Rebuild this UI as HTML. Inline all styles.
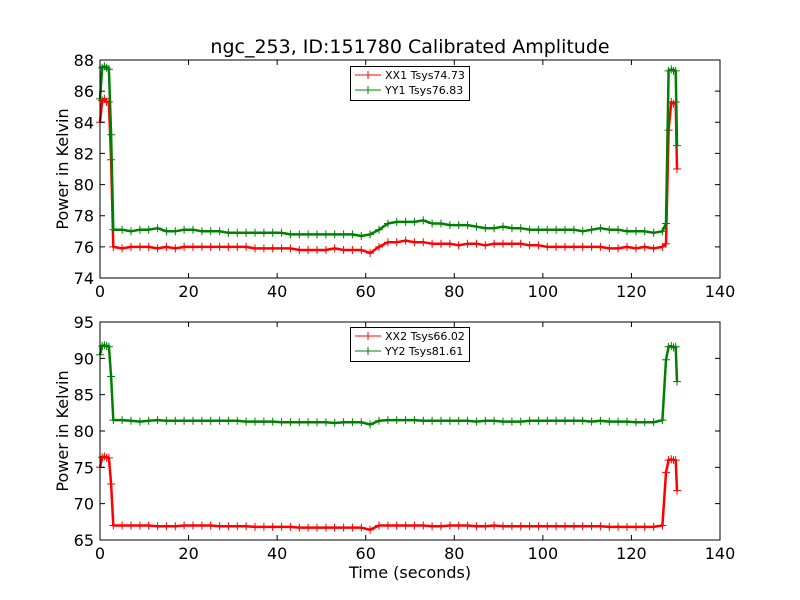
<!DOCTYPE html>
<html><head><meta charset="utf-8"><style>
body{margin:0;background:#fff}
svg{display:block;font-family:"DejaVu Sans","Liberation Sans",sans-serif}
</style></head><body>
<svg id="fig" width="800" height="600" viewBox="0 0 800 600">
<rect width="800" height="600" fill="#fff"/>
<text x="410" y="53" font-size="19" text-anchor="middle">ngc_253, ID:151780 Calibrated Amplitude</text>
<g id="p1"></g>
<g id="p2"></g>
<text x="410" y="578" font-size="16" text-anchor="middle">Time (seconds)</text>
</svg>
<script>
const times=[0,0.5,1,1.5,2,2.5,3,5,7,9,11,13,15,17,19,21,23,25,27,29,31,33,35,37,39,41,43,45,47,49,51,53,55,57,59,61,63,65,67,69,71,73,75,77,79,81,83,85,87,89,91,93,95,97,99,101,103,105,107,109,111,113,115,117,119,121,123,125,127,127.8,128.4,129,129.5,130,130.3];
const xx1=[84.0,85.4,85.5,85.3,85.3,81.6,76.0,75.9,76.0,76.0,76.0,75.9,76.0,75.9,76.0,76.0,76.0,76.0,76.0,76.0,76.0,76.0,75.9,75.9,75.9,75.9,75.9,75.8,75.8,75.8,75.8,75.9,75.8,75.8,75.8,75.6,76.0,76.3,76.3,76.4,76.3,76.3,76.2,76.2,76.2,76.1,76.2,76.2,76.1,76.2,76.2,76.2,76.2,76.1,76.1,76.0,76.0,76.0,76.0,76.0,76.0,76.0,75.9,75.9,76.0,75.9,76.0,75.9,76.0,76.2,83.5,85.3,85.2,85.3,81.0];
const yy1=[85.5,87.5,87.6,87.5,87.4,83.2,77.1,77.1,77.0,77.1,77.1,77.2,77.0,77.0,77.1,77.1,77.0,77.0,77.0,76.9,76.9,76.9,76.9,76.9,76.9,76.9,76.8,76.8,76.8,76.8,76.8,76.8,76.8,76.8,76.7,76.8,77.1,77.5,77.6,77.6,77.6,77.7,77.5,77.5,77.4,77.4,77.4,77.3,77.2,77.2,77.3,77.2,77.2,77.1,77.1,77.1,77.1,77.1,77.1,77.0,77.1,77.2,77.1,77.1,77.0,77.0,77.0,76.9,77.0,77.5,87.3,87.4,87.3,87.3,82.5];
const xx2=[75.0,76.4,76.5,76.3,76.3,72.7,67.0,67.0,67.0,67.0,67.0,66.9,66.9,66.9,67.0,67.0,67.0,67.0,66.9,66.9,66.9,66.9,66.8,66.8,66.8,66.8,66.8,66.7,66.7,66.7,66.7,66.7,66.7,66.7,66.7,66.4,67.0,67.0,67.0,67.0,67.0,67.0,66.9,66.9,67.0,67.0,67.0,66.9,66.9,67.0,66.9,66.9,66.9,66.9,66.9,66.9,66.9,66.9,66.9,66.9,66.9,66.9,66.8,66.8,66.8,66.8,66.8,66.8,67.0,74.3,76.0,76.1,76.0,76.0,71.8];
const yy2=[90.5,91.7,91.8,91.7,91.6,87.5,81.5,81.5,81.4,81.3,81.4,81.5,81.4,81.4,81.4,81.4,81.4,81.4,81.4,81.4,81.4,81.3,81.3,81.3,81.3,81.2,81.2,81.2,81.2,81.2,81.2,81.1,81.2,81.2,81.2,80.9,81.4,81.5,81.5,81.5,81.5,81.4,81.4,81.4,81.4,81.4,81.4,81.3,81.4,81.4,81.3,81.3,81.3,81.4,81.4,81.4,81.4,81.4,81.4,81.4,81.3,81.4,81.3,81.3,81.3,81.2,81.2,81.2,81.5,89.8,91.6,91.7,91.5,91.6,86.8];
const xTicks=[0,20,40,60,80,100,120,140];
const yTicks1=[74,76,78,80,82,84,86,88];
const yTicks2=[65,70,75,80,85,90,95];
const legend1=["XX1 Tsys74.73","YY1 Tsys76.83"];
const legend2=["XX2 Tsys66.02","YY2 Tsys81.61"];

const NS="http://www.w3.org/2000/svg";
function mk(parent,tag,attrs){const e=document.createElementNS(NS,tag);for(const k in attrs)e.setAttribute(k,attrs[k]);parent.appendChild(e);return e;}
const L=100,R=720;
function xs(t){return L+(t-0)/(140-0)*(R-L);}

function panel(g,top,bot,ymin,ymax,yTicks,series,colors,labels,legY,prefix){
  const ys=v=>bot-(v-ymin)/(ymax-ymin)*(bot-top);
  series.forEach((s,si)=>{
    let d="";
    s.forEach((v,i)=>{d+=(i?"L":"M")+xs(times[i]).toFixed(1)+","+ys(v).toFixed(1);});
    const p=mk(g,"path",{d:d,fill:"none",stroke:colors[si],"stroke-width":2.5,"stroke-linejoin":"round"});
    
    
    let md="";
    s.forEach((v,i)=>{const x=xs(times[i]),y=ys(v);md+=`M${(x-4).toFixed(1)},${y.toFixed(1)}h8M${x.toFixed(1)},${(y-4).toFixed(1)}v8`;});
    const m=mk(g,"path",{d:md,fill:"none",stroke:colors[si],"stroke-width":1});
    
    
  });
  const frame=mk(g,"rect",{x:L,y:top,width:R-L,height:bot-top,fill:"none",stroke:"#000","stroke-width":1});
  
  
  xTicks.forEach(t=>{
    const x=xs(t);
    mk(g,"path",{d:`M${x},${bot}v-5M${x},${top}v5`,stroke:"#000"});
    const tx=mk(g,"text",{x:x,y:bot+19,"font-size":16,"text-anchor":"middle"});
    tx.textContent=t;
    
    
  });
  yTicks.forEach(v=>{
    const y=ys(v);
    mk(g,"path",{d:`M${L},${y}h5M${R},${y}h-5`,stroke:"#000"});
    const tx=mk(g,"text",{x:L-6,y:y+6,"font-size":16,"text-anchor":"end"});
    tx.textContent=v;
    
    
  });
  const yt=mk(g,"text",{x:0,y:0,"font-size":16,"text-anchor":"middle",transform:`translate(68,${(top+bot)/2}) rotate(-90)`});
  yt.textContent="Power in Kelvin";
  
  
  const lg=mk(g,"g",{});
  
  
  mk(lg,"rect",{x:350.5,y:legY+0.5,width:119,height:34,fill:"#fff",stroke:"#000"});
  labels.forEach((lab,i)=>{
    const y=legY+9+i*15;
    mk(lg,"path",{d:`M355,${y}h26M364,${y}h8M368,${y-4}v8`,stroke:colors[i],fill:"none"});
    const tx=mk(lg,"text",{x:385,y:y+4,"font-size":11});
    tx.textContent=lab;
    
    
  });
}
panel(document.getElementById("p1"),60,278,74,88,yTicks1,[xx1,yy1],["#ff0000","#008000"],legend1,66,"top");
panel(document.getElementById("p2"),322,540,65,95,yTicks2,[xx2,yy2],["#ff0000","#008000"],legend2,327,"bottom");
</script>
</body></html>
